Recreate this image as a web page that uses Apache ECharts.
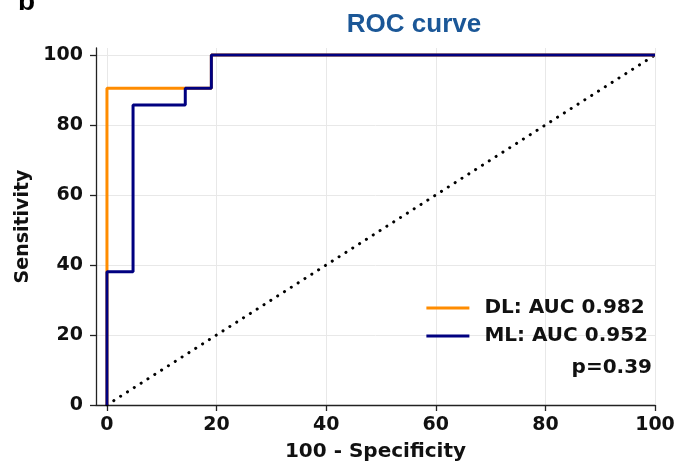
<!DOCTYPE html>
<html>
<head>
<meta charset="utf-8">
<script src="https://cdn.jsdelivr.net/npm/echarts@6/dist/echarts.min.js"></script>
<style>
  html, body { margin: 0; padding: 0; background: #fff; }
  #roc { width: 679px; height: 467px; }
</style>
</head>
<body>
<div id="roc"></div>
<script>
// ROC 数据 (100 - Specificity, Sensitivity)
var tickValues = [0, 20, 40, 60, 80, 100];
var dlX = [0, 0, 19.05, 19.05, 100];
var dlY = [0, 90.48, 90.48, 100, 100];
var mlX = [0, 0, 4.76, 4.76, 14.29, 14.29, 19.05, 19.05, 100];
var mlY = [0, 38.1, 38.1, 85.71, 85.71, 90.48, 90.48, 100, 100];
var chanceX = [0, 100];
var chanceY = [0, 100];
var dlName = 'DL: AUC 0.982';
var mlName = 'ML: AUC 0.952';
var pText = 'p=0.39';

function pairs(xs, ys) {
  var out = [];
  for (var i = 0; i < xs.length; i++) out.push([xs[i], ys[i]]);
  return out;
}

var tickFont = {
  fontFamily: 'DejaVu Sans',
  fontWeight: 'bold',
  fontSize: 19,
  color: '#111'
};
var nameFont = { fontFamily: 'DejaVu Sans', fontWeight: 'bold', fontSize: 19, color: '#111' };

var chart = echarts.init(document.getElementById('roc'));

var option = {
  animation: false,
  title: {
    text: 'ROC curve',
    left: 409,
    top: 7,
    textAlign: 'center',
    textStyle: {
      fontFamily: 'Liberation Sans',
      fontWeight: 'bold',
      fontSize: 26,
      color: '#1b5797'
    }
  },
  graphic: [
    {
      type: 'text', left: 18, top: -12,
      style: { text: 'b', fontFamily: 'Liberation Sans', fontWeight: 'bold', fontSize: 28, fill: '#000' }
    },
    {
      type: 'text', right: 27, top: 358,
      style: { text: pText, fontFamily: 'DejaVu Sans', fontWeight: 'bold', fontSize: 20, fill: '#111' }
    }
  ],
  legend: {
    right: 26,
    top: 293,
    orient: 'vertical',
    itemWidth: 43,
    itemHeight: 3,
    itemGap: 8,
    icon: 'rect',
    data: [dlName, mlName],
    textStyle: {
      fontFamily: 'DejaVu Sans',
      fontWeight: 'bold',
      fontSize: 20,
      color: '#111',
      padding: [0, 0, 0, 10]
    }
  },
  grid: { left: 96, right: 24, top: 48, bottom: 56 },
  xAxis: {
    type: 'value',
    min: -2,
    max: 100,
    name: '100 - Specificity',
    nameLocation: 'middle',
    nameGap: 37,
    nameTextStyle: { fontFamily: 'DejaVu Sans', fontWeight: 'bold', fontSize: 20, color: '#111' },
    axisLine: { onZero: false, lineStyle: { color: '#222', width: 1.3 } },
    axisTick: { show: true, customValues: tickValues, length: 6, lineStyle: { color: '#222', width: 1.3 } },
    axisLabel: Object.assign({ customValues: tickValues, margin: 11 }, tickFont),
    splitLine: { show: true, lineStyle: { color: '#e8e8e8', width: 1 } }
  },
  yAxis: {
    type: 'value',
    min: 0,
    max: 102,
    name: 'Sensitivity',
    nameLocation: 'middle',
    nameGap: 58,
    nameTextStyle: nameFont,
    axisLine: { show: true, onZero: false, lineStyle: { color: '#222', width: 1.3 } },
    axisTick: { show: true, customValues: tickValues, length: 6, lineStyle: { color: '#222', width: 1.3 } },
    axisLabel: Object.assign({ customValues: tickValues, margin: 13 }, tickFont),
    splitLine: { show: true, lineStyle: { color: '#e8e8e8', width: 1 } }
  },
  series: [
    {
      name: dlName,
      type: 'line',
      data: pairs(dlX, dlY),
      symbol: 'none',
      color: '#ff8c00',
      lineStyle: { width: 3, color: '#ff8c00' },
      z: 2
    },
    {
      name: mlName,
      type: 'line',
      data: pairs(mlX, mlY),
      symbol: 'none',
      color: '#000080',
      lineStyle: { width: 3, color: '#000080' },
      z: 3
    },
    {
      name: 'chance',
      type: 'line',
      data: pairs(chanceX, chanceY),
      symbol: 'none',
      lineStyle: { width: 3, color: '#000', type: [0.1, 8], cap: 'round' },
      z: 1
    }
  ]
};

chart.setOption(option);
</script>
</body>
</html>
